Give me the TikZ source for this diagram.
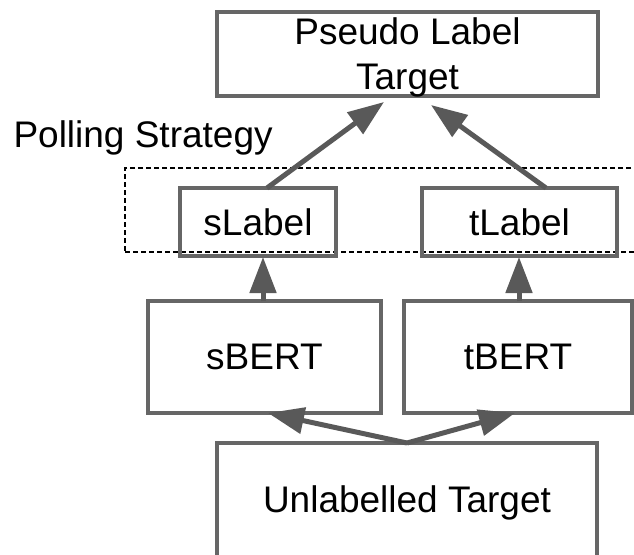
\documentclass[tikz,border=0pt]{standalone}
\usepackage{fontspec}
\setmainfont{Liberation Sans}
\usetikzlibrary{arrows.meta}
\definecolor{boxgray}{HTML}{666666}
\definecolor{arrowgray}{HTML}{595959}

\begin{document}
\begin{tikzpicture}[x=1pt,y=-1pt,
  every node/.style={font=\fontsize{37}{45}\selectfont, text=black},
  stagebox/.style={draw=boxgray, line width=4pt, rectangle, inner sep=0pt,
    outer sep=0pt, text depth=0pt, align=center},
  poolbox/.style={draw=black, line width=1.3pt, dash pattern=on 5pt off 3pt,
    rectangle, inner sep=0pt, outer sep=0pt},
  flow/.style={arrowgray, line width=5pt, -{Triangle[length=36pt,width=26pt]}}
]
\useasboundingbox (0,0) rectangle (634,554);

% pooling group around the two label nodes
\node[poolbox, minimum width=515pt, minimum height=84pt] (pool) at (382.5,210) {};
\node[anchor=base west] (poll) at (10,147) {Polling Strategy};

% stages
\node[stagebox, minimum width=381pt, minimum height=84pt] (top) at (407.5,54) {Pseudo Label\\Target};
\node[stagebox, minimum width=156pt, minimum height=68pt] (sl) at (258,222) {sLabel};
\node[stagebox, minimum width=195pt, minimum height=68pt] (tl) at (519.5,222) {tLabel};
\node[stagebox, minimum width=233pt, minimum height=112pt] (sb) at (264.5,357) {sBERT};
\node[stagebox, minimum width=228pt, minimum height=112pt] (tb) at (518,357) {tBERT};
\node[stagebox, text depth=6pt, minimum width=380pt, minimum height=119pt] (ut) at (407,502.5) {Unlabelled Target};

% data flow
\draw[flow] ([xshift=9pt]sl.north) -- ([xshift=-23.5pt,yshift=-6pt]top.south);
\draw[flow] ([xshift=26.5pt]tl.north) -- ([xshift=23.5pt,yshift=-9pt]top.south);
\draw[flow] ([xshift=-1.5pt]sb.north) -- ([xshift=5pt,yshift=-1pt]sl.south);
\draw[flow] ([xshift=1pt]tb.north) -- ([xshift=-0.5pt,yshift=-1pt]tl.south);
\draw[flow] (ut.north) -- ([xshift=3.5pt]sb.south);
\draw[flow] (ut.north) -- ([xshift=-3pt]tb.south);
\end{tikzpicture}
\end{document}
